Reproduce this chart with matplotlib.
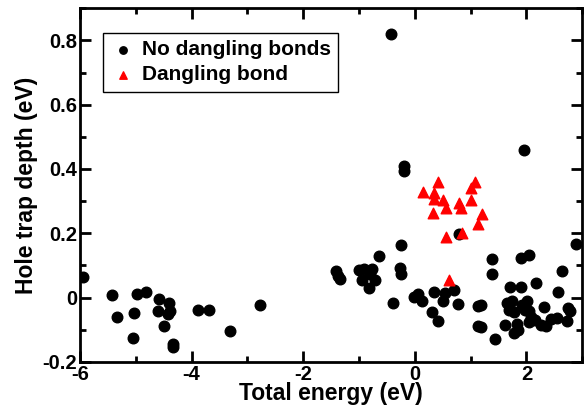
import numpy as np
import matplotlib
matplotlib.use('Agg')
import matplotlib.pyplot as plt
from matplotlib.ticker import MultipleLocator

# pontos sem dangling bonds (energia total, profundidade)
x_nodb = [-5.94, -5.42, -5.34, -4.97, -4.81, -5.03, -5.05, -4.59, -4.40, -4.60,
          -4.42, -4.38, -4.49, -4.33, -4.33, -3.89, -3.68, -3.31, -2.77,
          -1.42, -1.38, -1.34, -0.65, -0.24, -1.00, -0.91, -0.77, -0.94, -0.71,
          -0.82, -0.80, -0.27, -0.24, -0.39, -0.02, 0.06, 0.12, 0.34, 0.54, 0.70,
          0.50, 0.77, 0.30, 0.42, 0.79, 1.14, 1.14, -0.42, -0.20, -0.20, 1.95,
          1.38, 1.39, 1.90, 2.05, 1.18, 1.18, 1.43, 1.71, 1.90, 2.17,
          1.65, 1.74, 2.01, 1.92, 1.68, 1.77, 1.98, 2.05, 1.62, 1.83, 1.77, 1.85,
          2.08, 2.15, 2.05, 2.26, 2.35, 2.44, 2.55, 2.72, 2.32, 2.57, 2.64,
          2.75, 2.78, 2.88]
y_nodb = [0.063, 0.007, -0.059, 0.012, 0.018, -0.047, -0.124, -0.004, -0.018, -0.043,
          -0.052, -0.043, -0.089, -0.144, -0.153, -0.037, -0.037, -0.103, -0.022,
          0.082, 0.068, 0.058, 0.129, 0.163, 0.085, 0.088, 0.088, 0.054, 0.054,
          0.029, 0.075, 0.093, 0.074, -0.016, 0.002, 0.012, -0.011, 0.019, 0.015, 0.025,
          -0.012, -0.019, -0.044, -0.074, 0.198, -0.025, -0.087, 0.82, 0.41, 0.395, 0.46,
          0.119, 0.075, 0.123, 0.134, -0.024, -0.09, -0.129, 0.033, 0.033, 0.046,
          -0.017, -0.011, -0.009, -0.022, -0.037, -0.046, -0.037, -0.040, -0.084, -0.082, -0.11, -0.10,
          -0.06, -0.069, -0.077, -0.084, -0.087, -0.067, -0.064, -0.074, -0.029, 0.017, 0.083,
          -0.032, -0.041, 0.166]

# pontos com dangling bond
x_db = [0.14, 0.42, 0.35, 0.35, 0.51, 0.56, 0.32, 0.80, 0.83, 1.01, 1.01, 1.07,
        1.21, 1.14, 0.56, 0.85, 0.61]
y_db = [0.330, 0.358, 0.325, 0.308, 0.303, 0.280, 0.262, 0.293, 0.280, 0.303, 0.340, 0.358,
        0.260, 0.228, 0.190, 0.200, 0.054]

xticks = [-6, -4, -2, 0, 2]
yticks = [-0.2, 0, 0.2, 0.4, 0.6, 0.8]
ytick_labels = ['-0.2', '0', '0.2', '0.4', '0.6', '0.8']

plt.rcParams['font.family'] = ['Liberation Sans', 'DejaVu Sans']
plt.rcParams['font.weight'] = 'bold'

fig = plt.figure(figsize=(5.84, 4.09), dpi=100)
ax = fig.add_axes([0.137, 0.115, 0.86, 0.865])

ax.scatter(x_nodb, y_nodb, s=58, c='black', marker='o', label='No dangling bonds', zorder=2)
ax.scatter(x_db, y_db, s=58, c='red', marker='^', label='Dangling bond', zorder=3)

ax.set_xlim(-6, 3)
ax.set_ylim(-0.2, 0.9)
ax.set_xticks(xticks)
ax.set_xticklabels([str(t) for t in xticks])
ax.xaxis.set_minor_locator(MultipleLocator(1))
ax.set_yticks(yticks)
ax.set_yticklabels(ytick_labels)
ax.yaxis.set_minor_locator(MultipleLocator(0.1))
ax.tick_params(which='both', direction='in', top=True, right=True, width=2, labelsize=14.5, pad=2)
ax.tick_params(which='major', length=8)
ax.tick_params(which='minor', length=4)
for sp in ax.spines.values():
    sp.set_linewidth(2)

ax.set_xlabel('Total energy (eV)', fontsize=16.5, fontweight='bold', labelpad=-1)
ax.set_ylabel('Hole trap depth (eV)', fontsize=16.5, fontweight='bold', labelpad=3)

leg = ax.legend(loc='upper left', bbox_to_anchor=(0.046, 0.93), fontsize=15, markerscale=0.7,
                fancybox=False, framealpha=1, edgecolor='black', handletextpad=0.3,
                borderpad=0.35, labelspacing=0.3, handlelength=1.2, borderaxespad=0)
leg.get_frame().set_linewidth(1)

fig.savefig('out.png', dpi=100)
